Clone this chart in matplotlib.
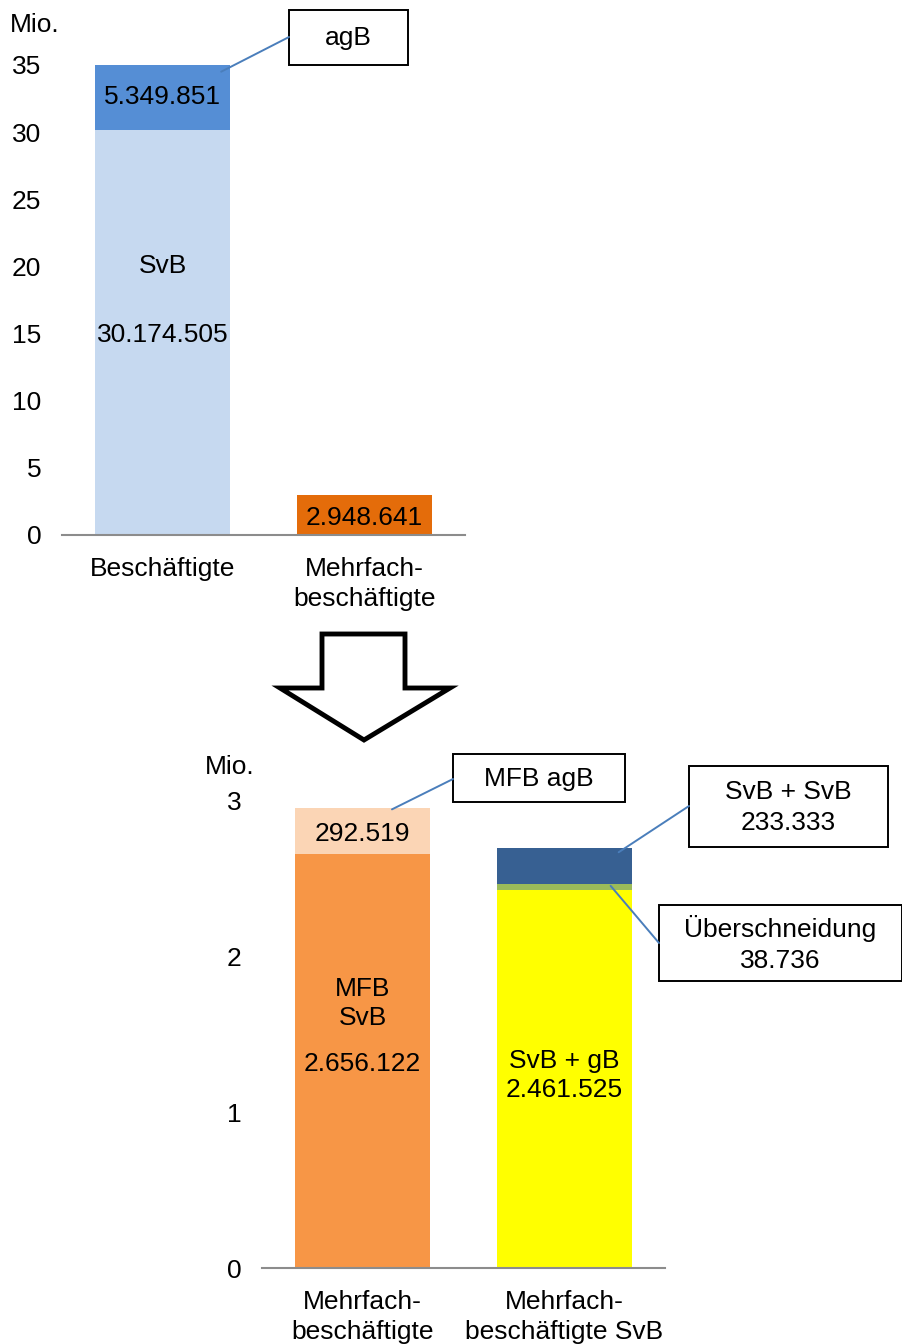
import matplotlib.pyplot as plt
from matplotlib.patches import Rectangle, Polygon, ConnectionPatch

plt.rcParams['font.family'] = ['Liberation Sans', 'DejaVu Sans']

# top chart: all employees vs. multiple jobholders (millions)
top_cats = ['Beschäftigte', 'Mehrfach-\nbeschäftigte']
top_svb = [30.174505, 0]
top_agb = [5.349851, 0]
top_mfb = [0, 2.948641]
top_ticks = [0, 5, 10, 15, 20, 25, 30, 35]

# bottom chart: multiple jobholders broken down (millions)
bot_cats = ['Mehrfach-\nbeschäftigte', 'Mehrfach-\nbeschäftigte SvB']
mfb_svb = 2.656122
mfb_agb = 0.292519
svb_gb = 2.461525
overlap = 0.038736
svb_svb = 0.233333
bot_ticks = [0, 1, 2, 3]

W, H = 903, 1344
FS = 19
fig = plt.figure(figsize=(W / 100, H / 100), dpi=100)


def px_axes(x0, y0, x1, y1):
    return fig.add_axes([x0 / W, 1 - y1 / H, (x1 - x0) / W, (y1 - y0) / H])


def style(ax, ticks, top):
    ax.set_xlim(-0.5, 1.5)
    ax.set_ylim(0, top)
    ax.set_yticks(ticks)
    for s in ['top', 'right', 'left']:
        ax.spines[s].set_visible(False)
    ax.spines['bottom'].set_color('#8c8c8c')
    ax.spines['bottom'].set_linewidth(1.5)
    ax.tick_params(axis='both', length=0, labelsize=FS)
    ax.tick_params(axis='y', pad=15)
    ax.tick_params(axis='x', pad=16)


bw = 0.67

ax1 = px_axes(62, 65, 465, 535)
ax1.bar(0, top_svb[0], bw, color='#c6d9f0')
ax1.bar(0, top_agb[0], bw, bottom=top_svb[0], color='#558ed5')
ax1.bar(1, top_mfb[1], bw, color='#e46c0a')
style(ax1, top_ticks, 35)
ax1.set_xticks([0, 1])
ax1.set_xticklabels(top_cats, linespacing=1.3)
ax1.text(0, 20, 'SvB', ha='center', va='center', fontsize=FS)
ax1.text(0, 14.9, '30.174.505', ha='center', va='center', fontsize=FS)
ax1.text(0, 32.6, '5.349.851', ha='center', va='center', fontsize=FS)
ax1.text(1, 1.3, '2.948.641', ha='center', va='center', fontsize=FS)

ax2 = px_axes(262, 800, 665, 1268)
ax2.bar(0, mfb_svb, bw, color='#f79646')
ax2.bar(0, mfb_agb, bw, bottom=mfb_svb, color='#fbd5b5')
ax2.bar(1, svb_gb - overlap, bw, color='#ffff00')
ax2.bar(1, overlap, bw, bottom=svb_gb - overlap, color='#9bbb59')
ax2.bar(1, svb_svb, bw, bottom=svb_gb, color='#376092')
style(ax2, bot_ticks, 3)
ax2.set_xticks([0, 1])
ax2.set_xticklabels(bot_cats, linespacing=1.3)
ax2.text(0, 1.79, 'MFB', ha='center', va='center', fontsize=FS)
ax2.text(0, 1.60, 'SvB', ha='center', va='center', fontsize=FS)
ax2.text(0, 1.31, '2.656.122', ha='center', va='center', fontsize=FS)
ax2.text(0, 2.78, '292.519', ha='center', va='center', fontsize=FS)
ax2.text(1, 1.33, 'SvB + gB', ha='center', va='center', fontsize=FS)
ax2.text(1, 1.14, '2.461.525', ha='center', va='center', fontsize=FS)

# overlay in pixel coordinates for unit labels, callouts and the arrow
ov = fig.add_axes([0, 0, 1, 1])
ov.set_xlim(0, W)
ov.set_ylim(H, 0)
ov.axis('off')
ov.patch.set_visible(False)

ov.text(10, 25, 'Mio.', ha='left', va='center', fontsize=FS)
ov.text(205, 767, 'Mio.', ha='left', va='center', fontsize=FS)

callouts = [
    (ax1, (0.29, 34.5), (289, 10, 408, 65), (289, 37), 'agB'),
    (ax2, (0.145, 2.94), (453, 754, 625, 802), (453, 779), 'MFB agB'),
    (ax2, (1.27, 2.665), (689, 766, 888, 847), (689, 806), 'SvB + SvB\n233.333'),
    (ax2, (1.23, 2.45), (659, 905, 902, 981), (659, 943), 'Überschneidung\n38.736'),
]
for ax, xy, (x0, y0, x1, y1), end, label in callouts:
    con = ConnectionPatch(xyA=xy, coordsA=ax.transData, xyB=end, coordsB=ov.transData,
                          color='#4a7ebb', lw=1.4)
    fig.add_artist(con)
    ov.add_patch(Rectangle((x0, y0), x1 - x0, y1 - y0, fill=True, facecolor='white',
                           edgecolor='black', lw=1.4))
    ov.text((x0 + x1) / 2, (y0 + y1) / 2 + 1, label, ha='center', va='center',
            fontsize=FS, linespacing=1.35)

arrow = [(322, 634), (405, 634), (405, 688), (450, 688), (364, 740),
         (280, 688), (322, 688)]
ov.add_patch(Polygon(arrow, closed=True, facecolor='white', edgecolor='black',
                     lw=3.5, joinstyle='miter'))

fig.savefig('out.png', dpi=100)
